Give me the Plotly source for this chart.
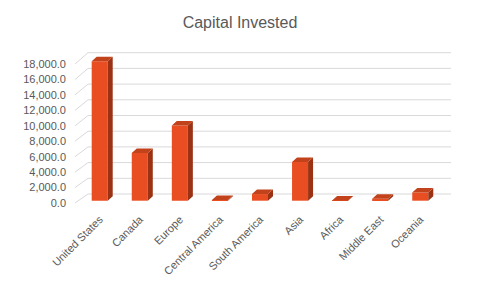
import plotly.graph_objects as go

# ---- data ----
categories = ["United States", "Canada", "Europe", "Central America", "South America",
              "Asia", "Africa", "Middle East", "Oceania"]
capital = [17800, 6100, 9600, 80, 850, 4950, 30, 250, 1050]
tick_values = [0, 2000, 4000, 6000, 8000, 10000, 12000, 14000, 16000, 18000]
tick_labels = [f"{v:,.1f}" for v in tick_values]

# ---- layout geometry (pixels) ----
W, H = 480, 288
PLOT_LEFT, PLOT_BOTTOM = 70, 203
X0, XSTEP = 99.7, 40.07
BAR_BASE, BAR_SCALE = 200.7, 7.83 / 1000
LAB_BASE, LAB_SCALE = 203.0, 7.72 / 1000
WALL_BASE, WALL_SCALE = 194.0, 7.85 / 1000
SIDE_FRONT_X, WALL_LEFT_X, WALL_RIGHT_X = 75, 88, 451
DEPTH_DX, DEPTH_DY = 5.0, 4.5
BAR_W = 0.4

FRONT = "#E84E22"
SIDE = "#9A3213"
TOP = "#C2421B"
GRID = "#D9D9D9"
TEXT = "#595959"
FONT = "Liberation Sans, Arial, sans-serif"


def px_to_x(px):
    return (px - X0) / XSTEP


def px_to_bar(py):
    return (BAR_BASE - py) / BAR_SCALE


ddx = DEPTH_DX / XSTEP
ddy = DEPTH_DY / BAR_SCALE
xs = list(range(len(categories)))

fig = go.Figure()

# front faces
fig.add_trace(go.Bar(x=xs, y=capital, width=BAR_W, marker=dict(color=FRONT, line=dict(width=0)),
                     hoverinfo="skip", showlegend=False))

# side faces
sx, sy = [], []
for i, v in zip(xs, capital):
    xr = i + BAR_W / 2
    sx += [xr, xr, xr + ddx, xr + ddx, xr, None]
    sy += [0, v, v + ddy, ddy, 0, None]
fig.add_trace(go.Scatter(x=sx, y=sy, fill="toself", fillcolor=SIDE, mode="lines",
                         line=dict(width=0, color=SIDE), hoverinfo="skip", showlegend=False))

# top faces
tx, ty = [], []
for i, v in zip(xs, capital):
    xl, xr = i - BAR_W / 2, i + BAR_W / 2
    tx += [xl, xr, xr + ddx, xl + ddx, xl, None]
    ty += [v, v, v + ddy, v + ddy, v, None]
fig.add_trace(go.Scatter(x=tx, y=ty, fill="toself", fillcolor=TOP, mode="lines",
                         line=dict(width=0, color=TOP), hoverinfo="skip", showlegend=False))

# invisible trace for the label axis
fig.add_trace(go.Scatter(x=[0], y=[0], yaxis="y2", mode="markers", marker=dict(opacity=0),
                         hoverinfo="skip", showlegend=False))

# gridlines: side wall + back wall
shapes = []
for v in tick_values:
    y_front = px_to_bar(LAB_BASE - LAB_SCALE * v)
    y_back = px_to_bar(WALL_BASE - WALL_SCALE * v)
    shapes.append(dict(type="line", xref="x", yref="y", layer="below",
                       x0=px_to_x(SIDE_FRONT_X), y0=y_front, x1=px_to_x(WALL_LEFT_X), y1=y_back,
                       line=dict(color=GRID, width=1)))
    shapes.append(dict(type="line", xref="x", yref="y", layer="below",
                       x0=px_to_x(WALL_LEFT_X), y0=y_back, x1=px_to_x(WALL_RIGHT_X), y1=y_back,
                       line=dict(color=GRID, width=1)))

fig.update_layout(
    width=W, height=H,
    autosize=False,
    margin=dict(l=0, r=0, t=0, b=0, pad=0, autoexpand=False),
    paper_bgcolor="white", plot_bgcolor="rgba(0,0,0,0)",
    font=dict(family=FONT, color=TEXT, size=11),
    title=dict(text="Capital Invested", x=0.5, xanchor="center", y=1 - 22.5 / H, yanchor="middle",
               font=dict(size=16, color=TEXT, family=FONT)),
    shapes=shapes,
    xaxis=dict(domain=[PLOT_LEFT / W, 1], range=[px_to_x(PLOT_LEFT), px_to_x(W)],
               tickmode="array", tickvals=xs, ticktext=categories, tickangle=-45,
               showgrid=False, zeroline=False, showline=False, ticks="", automargin=False,
               ticklabelstandoff=7, tickfont=dict(size=11, color=TEXT)),
    yaxis=dict(domain=[(H - PLOT_BOTTOM) / H, 1], range=[px_to_bar(PLOT_BOTTOM), px_to_bar(0)],
               showticklabels=False, showgrid=False, zeroline=False, showline=False, ticks="",
               automargin=False),
    yaxis2=dict(overlaying="y", side="left", anchor="x",
                range=[(LAB_BASE - PLOT_BOTTOM) / LAB_SCALE, LAB_BASE / LAB_SCALE],
                tickmode="array", tickvals=tick_values, ticktext=tick_labels,
                showgrid=False, zeroline=False, showline=False, ticks="", automargin=False,
                ticklabelstandoff=3, tickfont=dict(size=11, color=TEXT)),
)

fig.write_html("out.html")
